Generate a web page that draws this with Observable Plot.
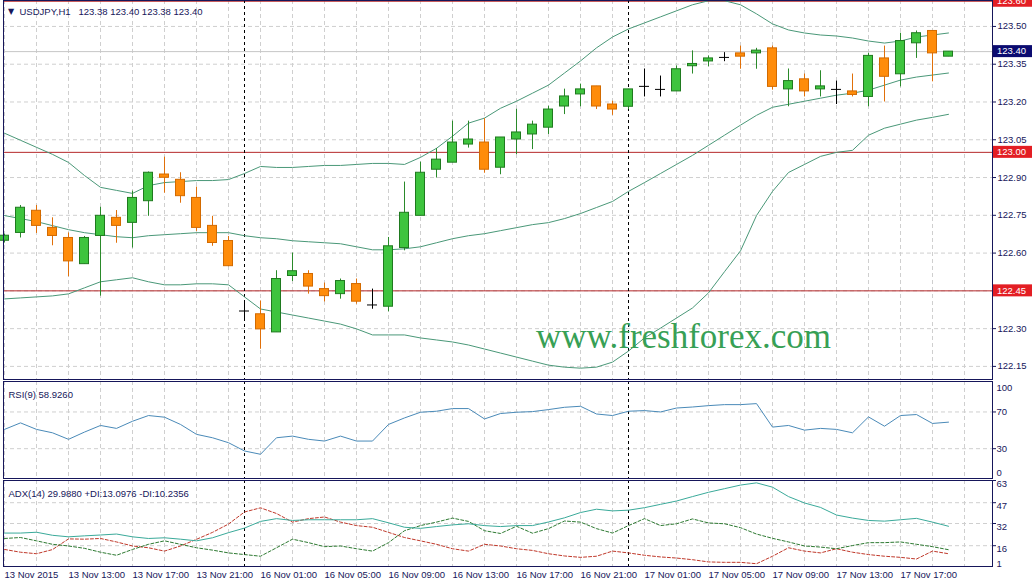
<!DOCTYPE html>
<html>
<head>
<meta charset="utf-8">
<script src="https://cdn.jsdelivr.net/npm/d3@7"></script>
<script src="https://cdn.jsdelivr.net/npm/@observablehq/plot@0.6"></script>
<style>
  html, body { margin: 0; padding: 0; background: #ffffff; }
  #chart { position: relative; width: 1033px; height: 585px; overflow: hidden; background: #ffffff; }
  #chart svg { position: absolute; left: 0; display: block; }
</style>
</head>
<body>
<div id="chart"></div>
<script>
// ---------------- DATA (USDJPY H1, 13 Nov 09:00 .. 17 Nov 20:00) ----------------
const opens  = [122.649,122.680,122.768,122.700,122.660,122.556,122.668,122.740,122.720,122.806,
                122.912,122.891,122.819,122.708,122.648,122.370,122.357,122.285,122.509,122.517,
                122.457,122.437,122.477,122.394,122.387,122.620,122.748,122.931,122.959,123.031,
                123.039,122.939,123.051,123.071,123.098,123.182,123.230,123.262,123.190,123.181,
                123.262,123.250,123.242,123.342,123.361,123.377,123.393,123.393,123.413,123.250,
                123.290,123.250,123.250,123.242,123.220,123.373,123.310,123.433,123.482,123.380];
const highs  = [122.675,122.789,122.789,122.740,122.680,122.666,122.782,122.769,122.846,122.922,
                122.981,122.919,122.862,122.746,122.666,122.410,122.410,122.530,122.600,122.530,
                122.481,122.497,122.497,122.457,122.662,122.882,122.961,123.015,123.124,123.124,
                123.134,123.059,123.171,123.124,123.183,123.251,123.271,123.262,123.203,123.250,
                123.331,123.303,123.343,123.403,123.383,123.396,123.422,123.413,123.422,123.331,
                123.311,123.324,123.283,123.311,123.393,123.422,123.473,123.482,123.482,123.400];
const lows   = [122.640,122.660,122.678,122.629,122.506,122.556,122.429,122.639,122.620,122.746,
                122.838,122.798,122.686,122.627,122.546,122.333,122.218,122.285,122.487,122.437,
                122.406,122.417,122.397,122.377,122.367,122.609,122.748,122.898,122.959,123.017,
                122.917,122.911,122.991,123.011,123.071,123.150,123.181,123.170,123.147,123.170,
                123.220,123.220,123.242,123.311,123.340,123.360,123.330,123.330,123.247,123.181,
                123.220,123.220,123.190,123.220,123.181,123.200,123.260,123.373,123.280,123.380];
const closes = [122.669,122.780,122.708,122.668,122.567,122.660,122.748,122.708,122.819,122.919,
                122.899,122.826,122.700,122.640,122.548,122.370,122.297,122.497,122.528,122.467,
                122.429,122.489,122.407,122.394,122.627,122.760,122.919,122.971,123.039,123.051,
                122.931,123.059,123.079,123.110,123.170,123.222,123.250,123.182,123.170,123.250,
                123.262,123.250,123.330,123.351,123.373,123.377,123.380,123.404,123.260,123.283,
                123.242,123.262,123.250,123.228,123.383,123.300,123.442,123.473,123.393,123.400];

const bbUpper  = [123.076,123.048,123.020,122.992,122.960,122.908,122.861,122.849,122.837,122.868,
                  122.880,122.884,122.888,122.888,122.892,122.916,122.944,122.940,122.940,122.944,
                  122.948,122.948,122.952,122.956,122.956,122.952,122.980,123.016,123.064,123.116,
                  123.136,123.175,123.203,123.235,123.267,123.315,123.363,123.415,123.458,123.490,
                  123.514,123.538,123.562,123.586,123.602,123.602,123.586,123.550,123.510,123.486,
                  123.474,123.466,123.462,123.454,123.442,123.434,123.442,123.458,123.466,123.474];
const bbMiddle = [122.749,122.737,122.725,122.709,122.693,122.681,122.673,122.665,122.661,122.669,
                  122.673,122.677,122.681,122.681,122.681,122.669,122.661,122.657,122.649,122.645,
                  122.641,122.637,122.625,122.613,122.613,122.617,122.625,122.641,122.657,122.669,
                  122.677,122.689,122.701,122.713,122.721,122.737,122.757,122.781,122.805,122.845,
                  122.880,122.916,122.952,122.988,123.028,123.068,123.108,123.147,123.179,123.191,
                  123.203,123.215,123.227,123.235,123.247,123.267,123.287,123.299,123.307,123.315];
const bbLower  = [122.418,122.422,122.426,122.430,122.438,122.462,122.486,122.494,122.502,122.486,
                  122.474,122.474,122.478,122.478,122.474,122.426,122.378,122.366,122.354,122.342,
                  122.330,122.318,122.299,122.275,122.275,122.275,122.263,122.255,122.247,122.235,
                  122.219,122.203,122.187,122.171,122.155,122.147,122.143,122.147,122.167,122.211,
                  122.263,122.302,122.342,122.382,122.442,122.526,122.609,122.749,122.845,122.920,
                  122.952,122.984,123.000,123.008,123.068,123.096,123.112,123.128,123.139,123.151];

const rsi = [51.0,58.1,51.0,47.3,40.2,48.1,55.3,52.1,59.9,66.1,
             64.3,56.4,45.6,41.9,36.5,27.5,23.9,41.9,43.7,40.2,
             38.3,43.7,38.3,38.3,56.4,63.5,69.7,70.8,73.7,73.7,
             62.4,68.3,69.7,70.4,72.6,75.1,76.2,67.8,66.1,70.8,
             71.5,70.0,74.3,75.4,76.9,78.0,78.0,79.1,53.5,55.3,
             50.2,52.1,51.0,47.3,64.6,54.5,66.1,67.2,57.5,58.9];

const adx = [25.1,25.1,25.7,23.5,22.4,23.1,23.7,24.4,22.4,21.2,
             21.7,20.7,19.5,21.7,25.4,28.7,33.5,35.5,34.2,34.7,
             34.7,34.7,34.7,35.5,32.5,29.3,28.5,29.8,31.0,31.8,
             30.5,29.8,30.5,30.5,33.1,36.1,39.9,42.3,41.1,41.6,
             43.4,45.8,48.2,51.4,54.5,57.1,59.7,61.3,58.2,51.4,
             46.8,43.6,38.1,35.9,34.2,33.7,34.7,35.7,33.0,30.0];
const plusDI = [21.2,21.9,19.5,17.0,15.8,14.1,11.3,9.1,13.3,17.0,
                19.5,17.0,14.5,12.8,10.8,9.6,8.4,14.5,20.7,18.2,
                15.3,15.8,13.8,12.1,18.2,26.8,30.5,33.0,35.9,33.5,
                26.8,24.8,30.0,25.0,28.3,33.8,33.0,28.3,25.1,30.5,
                35.5,30.5,31.8,35.3,32.4,31.8,29.0,24.4,21.3,18.7,
                15.8,15.0,13.8,16.1,18.2,18.2,18.7,17.0,15.3,13.1];
const minusDI = [13.3,11.3,10.2,13.2,20.9,20.7,21.2,18.7,15.8,14.5,
                 12.1,15.8,20.6,25.6,31.6,40.3,43.3,39.2,33.0,35.5,
                 36.7,33.0,30.5,29.3,25.6,21.9,19.5,17.0,13.8,12.1,
                 17.0,15.8,13.8,12.6,10.2,8.6,7.6,8.4,12.1,10.8,
                 9.1,7.9,7.1,5.9,4.3,4.0,4.0,3.0,8.4,14.5,
                 12.1,10.8,13.8,11.3,9.6,8.4,7.6,6.4,12.1,10.2];

const timeLabels = ["13 Nov 2015","13 Nov 13:00","13 Nov 17:00","13 Nov 21:00","16 Nov 01:00",
                    "16 Nov 05:00","16 Nov 09:00","16 Nov 13:00","16 Nov 17:00","16 Nov 21:00",
                    "17 Nov 01:00","17 Nov 05:00","17 Nov 09:00","17 Nov 13:00","17 Nov 17:00"];
const priceGrid  = [123.50,123.35,123.20,123.05,122.90,122.75,122.60,122.45,122.30,122.15];
const priceTicks = [123.50,123.35,123.20,123.05,122.90,122.75,122.60,122.30,122.15]; // 122.45 shown in its level box
const levels = [123.60, 123.00, 122.45];
const bidPrice = 123.40;
const separators = [15, 39];           // day separators (bar index)
const rsiGrid = [70, 30];
const rsiTicks = [70, 30];
const adxTicks = [63, 47, 32, 16];
const adxGrid = [47, 32, 16];
const mainHeader = "USDJPY,H1   123.38 123.40 123.38 123.40";
const rsiHeader = "RSI(9) 58.9260";
const adxHeader = "ADX(14) 29.9880 +DI:13.0976 -DI:10.2356";

// ---------------- STYLE ----------------
const FONT = "'Liberation Sans', Arial, sans-serif";
const NAVY = "#16165a";
const GRID = "#cfcfcf";
const BB = "#4a9878";
const xDomain = [-1 / 16, 988 / 16];
const gridBars = d3.range(0, 61, 2);
const idx = (d, i) => i;
const val = d => d;

const candles = opens.map((o, i) => ({k: i, o, h: highs[i], l: lows[i], c: closes[i]}));
const up = candles.filter(d => d.c > d.o);
const down = candles.filter(d => d.c < d.o);
const flat = candles.filter(d => d.c === d.o);

const styleOf = () => ({fontFamily: FONT, fontSize: "9.5px", color: NAVY, background: "transparent"});
const vGrid = () => Plot.ruleX(gridBars, {x: val, stroke: GRID, strokeDasharray: "4,3"});
const seps = () => Plot.ruleX(separators, {x: val, stroke: "#000", strokeDasharray: "3,3"});

const boxes = [
  {value: levels[0], fill: "#e31e24"},
  {value: bidPrice, fill: "#0b0b70"},
  {value: levels[1], fill: "#e31e24"},
  {value: levels[2], fill: "#e31e24"}
];
function priceBoxes(index, scales, values, dimensions) {
  const y = scales.y;
  const x0 = dimensions.width - dimensions.marginRight + 1;
  const g = d3.create("svg:g").attr("text-anchor", "start");
  for (const b of boxes) {
    const yy = y(b.value);
    g.append("rect").attr("x", x0).attr("y", yy - 6).attr("width", 39).attr("height", 12).attr("fill", b.fill);
    g.append("text").attr("x", x0 + 4).attr("y", yy).attr("dy", "0.35em").attr("text-anchor", "start")
      .attr("fill", "#ffffff").attr("font-size", "9.5px").attr("font-family", FONT)
      .text(d3.format(".2f")(b.value));
  }
  return g.node();
}

// ---------------- MAIN PANEL ----------------
const main = Plot.plot({
  width: 1033, height: 380,
  marginTop: 0, marginBottom: 1, marginLeft: 3, marginRight: 41,
  x: {type: "linear", domain: xDomain, axis: null},
  y: {domain: [122.098, 123.603]},
  style: styleOf(),
  marks: [
    vGrid(),
    Plot.ruleY(priceGrid, {y: val, stroke: GRID, strokeDasharray: "4,3"}),
    Plot.ruleY([bidPrice], {y: val, stroke: "#c6c6c6"}),
    Plot.ruleY(levels, {y: val, stroke: "#b5282a"}),
    seps(),
    Plot.line(bbUpper, {x: idx, y: val, stroke: BB, strokeWidth: 1}),
    Plot.line(bbMiddle, {x: idx, y: val, stroke: BB, strokeWidth: 1}),
    Plot.line(bbLower, {x: idx, y: val, stroke: BB, strokeWidth: 1}),
    Plot.ruleX(up, {x: "k", y1: "l", y2: "h", stroke: "#2a8a2a"}),
    Plot.ruleX(down, {x: "k", y1: "l", y2: "h", stroke: "#e0700a"}),
    Plot.ruleX(flat, {x: "k", y1: "l", y2: "h", stroke: "#000"}),
    Plot.rect(up, {x1: d => d.k - 0.5, x2: d => d.k + 0.5, y1: "o", y2: "c", insetLeft: 3.5, insetRight: 3.5, fill: "#3ec43e", stroke: "#1f7a1f"}),
    Plot.rect(down, {x1: d => d.k - 0.5, x2: d => d.k + 0.5, y1: "o", y2: "c", insetLeft: 3.5, insetRight: 3.5, fill: "#ff8c0a", stroke: "#d26a00"}),
    Plot.ruleY(flat, {y: "c", x1: d => d.k - 0.5, x2: d => d.k + 0.5, insetLeft: 3, insetRight: 3, stroke: "#000"}),
    Plot.text(["www.freshforex.com"], {frameAnchor: "top-left", dx: 680, dy: 347, lineAnchor: "bottom", textAnchor: "middle",
      fontFamily: "'Liberation Serif', 'Times New Roman', serif", fontSize: 35, fill: "#37a055"}),
    Plot.text(["\u25BC"], {frameAnchor: "top-left", dx: 7.5, dy: 8, fontSize: 8, textAnchor: "middle", fontFamily: "'DejaVu Sans', sans-serif"}),
    Plot.text([mainHeader], {frameAnchor: "top-left", dx: 16, dy: 8, textAnchor: "start"}),
    Plot.axisY({anchor: "right", ticks: priceTicks, tickSize: 3, tickPadding: 2, tickFormat: d3.format(".2f"), label: null}),
    priceBoxes,
    Plot.frame({stroke: NAVY})
  ]
});
main.style.top = "0px";

// ---------------- RSI PANEL ----------------
const rsiPlot = Plot.plot({
  width: 1033, height: 100,
  marginTop: 2, marginBottom: 1, marginLeft: 3, marginRight: 41,
  x: {type: "linear", domain: xDomain, axis: null},
  y: {domain: [-2.5, 103.2]},
  style: styleOf(),
  marks: [
    vGrid(),
    Plot.ruleY(rsiGrid, {y: val, stroke: GRID, strokeDasharray: "4,3"}),
    seps(),
    Plot.line(rsi, {x: idx, y: val, stroke: "#4a8ab8", strokeWidth: 1}),
    Plot.text([rsiHeader], {frameAnchor: "top-left", dx: 5, dy: 10, textAnchor: "start"}),
    Plot.axisY({anchor: "right", ticks: rsiTicks, tickSize: 3, tickPadding: 1, label: null}),
    Plot.axisY({anchor: "right", ticks: [100], tickSize: 0, tickPadding: 4, lineAnchor: "top", label: null}),
    Plot.axisY({anchor: "right", ticks: [0], tickSize: 0, tickPadding: 4, lineAnchor: "bottom", label: null}),
    Plot.frame({stroke: NAVY})
  ]
});
rsiPlot.style.top = "379px";

// ---------------- ADX PANEL ----------------
const adxPlot = Plot.plot({
  width: 1033, height: 106,
  marginTop: 1, marginBottom: 19, marginLeft: 3, marginRight: 41,
  x: {type: "linear", domain: xDomain, axis: null},
  y: {domain: [1, 63]},
  style: styleOf(),
  marks: [
    vGrid(),
    Plot.ruleY(adxGrid, {y: val, stroke: GRID, strokeDasharray: "4,3"}),
    seps(),
    Plot.line(minusDI, {x: idx, y: val, stroke: "#c0392b", strokeWidth: 1, strokeDasharray: "3,2"}),
    Plot.line(plusDI, {x: idx, y: val, stroke: "#2e7a32", strokeWidth: 1, strokeDasharray: "3,2"}),
    Plot.line(adx, {x: idx, y: val, stroke: "#3aaa9a", strokeWidth: 1}),
    Plot.text([adxHeader], {frameAnchor: "top-left", dx: 5, dy: 10, textAnchor: "start"}),
    Plot.axisY({anchor: "right", ticks: adxTicks, tickSize: 3, tickPadding: 1, lineAnchor: "top", label: null}),
    Plot.axisY({anchor: "right", ticks: [1], tickSize: 0, tickPadding: 4, lineAnchor: "bottom", label: null}),
    Plot.text(timeLabels, {x: (d, i) => i * 4, frameAnchor: "bottom", dy: 11, textAnchor: "start"}),
    Plot.frame({stroke: NAVY})
  ]
});
adxPlot.style.top = "479px";

const chart = document.getElementById("chart");
chart.append(main, rsiPlot, adxPlot);
</script>
</body>
</html>
